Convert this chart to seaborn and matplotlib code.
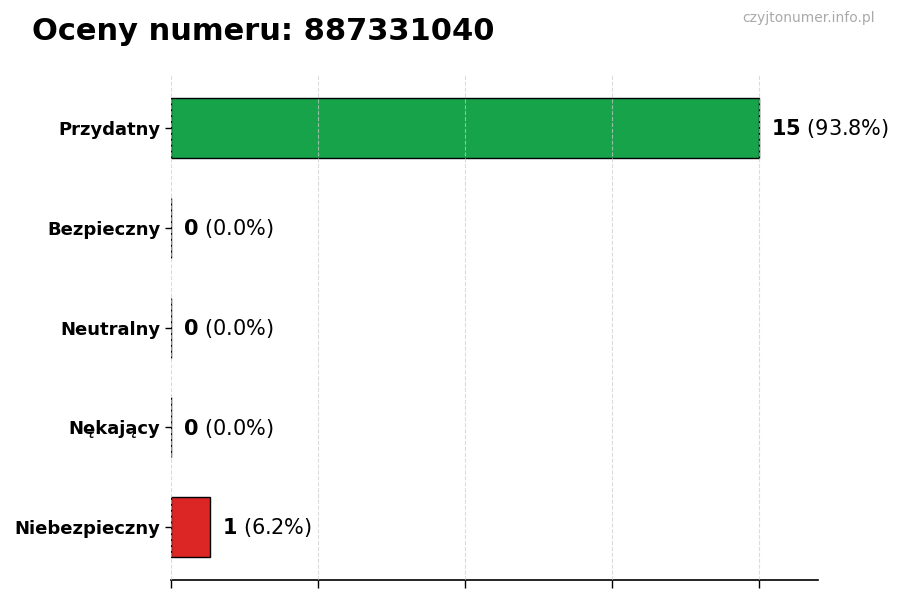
import matplotlib
matplotlib.use("Agg")
import matplotlib.pyplot as plt
import seaborn as sns
import pandas as pd
import numpy as np

categories = ["Przydatny", "Bezpieczny", "Neutralny", "Nękający", "Niebezpieczny"]
counts = [15, 0, 0, 0, 1]
colors = ["#16a34a", "#2563eb", "#9ca3af", "#f59e0b", "#dc2626"]
title = "Oceny numeru: 887331040"
watermark = "czyjtonumer.info.pl"

total = sum(counts)
df = pd.DataFrame({"cat": categories, "n": counts})

sns.set_style("white")
plt.rcParams['font.family'] = ['DejaVu Sans']
plt.rcParams['text.color'] = 'black'
plt.rcParams['axes.labelcolor'] = 'black'
plt.rcParams['xtick.color'] = 'black'
plt.rcParams['ytick.color'] = 'black'

fig = plt.figure(figsize=(9, 6), dpi=100)
ax = fig.add_axes([0.19, 0.033, 0.719, 0.842])

sns.barplot(data=df, x="n", y="cat", hue="cat", palette=colors, orient="h",
            width=0.6, edgecolor="black", linewidth=1, legend=False,
            saturation=1, ax=ax)

xmax = max(counts) * 1.1
ax.set_xlim(0, xmax)
ax.set_ylim(len(categories) - 0.47, -0.53)
ax.set_xticks(np.linspace(0, max(counts), 5))
ax.set_xticklabels([])
ax.tick_params(axis="x", length=6, width=1, color="black", direction="out", bottom=True)
ax.tick_params(axis="y", length=4, width=1, color="black", left=True, labelcolor="black")
ax.set_xlabel("")
ax.set_ylabel("")
for lbl in ax.get_yticklabels():
    lbl.set_fontweight("bold")
    lbl.set_fontsize(13)

ax.grid(axis="x", linestyle="--", color="#cccccc", alpha=0.7, linewidth=0.8)
ax.set_axisbelow(False)
for s in ["top", "right", "left"]:
    ax.spines[s].set_visible(False)
ax.spines["bottom"].set_color("black")
ax.spines["bottom"].set_linewidth(1.2)

for i, v in enumerate(counts):
    pct = v / total * 100
    ax.annotate(r"$\bf{" + str(v) + r"}$" + f" ({pct:.1f}%)", xy=(v, i), xytext=(8.3, -0.5),
                textcoords="offset points", va="center", ha="left", fontsize=15,
                color="black")

fig.text(0.035, 0.947, title, fontsize=22, fontweight="bold", ha="left", va="center",
         color="black")
fig.text(0.972, 0.97, watermark, fontsize=10, color="#aaaaaa", ha="right", va="center")

fig.savefig("out.png", dpi=100)
